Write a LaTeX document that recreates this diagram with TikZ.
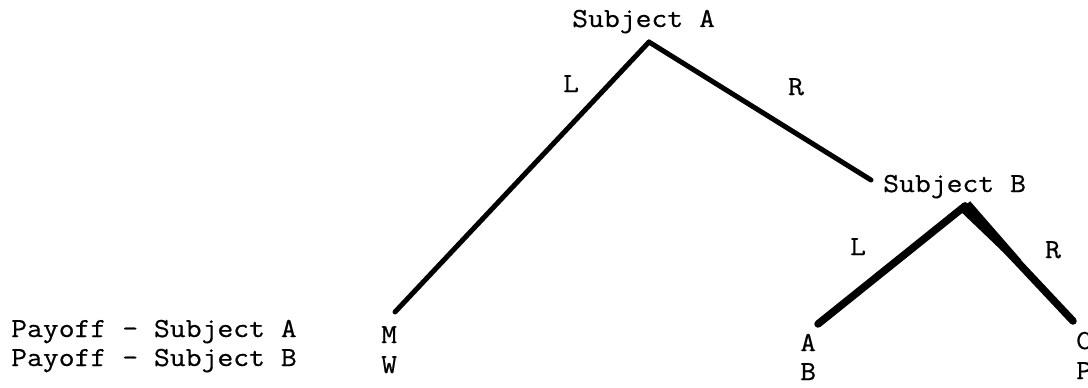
\documentclass[tikz,border=0pt]{standalone}
\usepackage{fontspec}
\setmonofont{Latin Modern Mono}[FakeStretch=1.12,FakeBold=0.6]
\begin{document}
\begin{tikzpicture}[x=1pt,y=-1pt,
  lbl/.style={font=\ttfamily\fontsize{27.5}{30}\selectfont, inner sep=0pt, anchor=base west},
  clbl/.style={font=\ttfamily\fontsize{27.5}{30}\selectfont, inner sep=0pt, anchor=base},
  branch/.style={line width=5pt, line cap=round},
  thick branch/.style={line width=7.5pt, line cap=round}]
\useasboundingbox (0,0) rectangle (1088,388);
% decision points and ends
\coordinate (ra) at (649,42);
\coordinate (rb) at (965,206);
\coordinate (sbend) at (871,180);
\coordinate (em) at (395,312);
\coordinate (ea) at (818,324);
\coordinate (ec) at (1073,321);
% branches
\draw[branch] (ra) -- (em);
\draw[branch] (ra) -- (sbend);
\draw[thick branch] (rb) -- (ea);
\draw[thick branch] (rb) -- (ec);
\fill (959.9,210.8) -- (970.1,201.2) -- (1021.0,259.6) -- (1016.0,264.4) -- cycle;
% texts
\node[lbl] (sa) at (572,27) {Subject A};
\node[lbl] (sb) at (883,192) {Subject B};
\node[clbl] (l1) at (571,92) {L};
\node[clbl] (r1) at (796,95) {R};
\node[clbl] (l2) at (858,255) {L};
\node[clbl] (r2) at (1053,258) {R};
\node[lbl] (p1) at (11,337) {Payoff - Subject A};
\node[lbl] (p2) at (11,366) {Payoff - Subject B};
\node[lbl] (m) at (381,343) {M};
\node[lbl] (w) at (381,373) {W};
\node[lbl] (a) at (800,351) {A};
\node[lbl] (b) at (800,380) {B};
\node[lbl] (c) at (1076,349) {C};
\node[lbl] (p) at (1076,379) {P};
\end{tikzpicture}
\end{document}
